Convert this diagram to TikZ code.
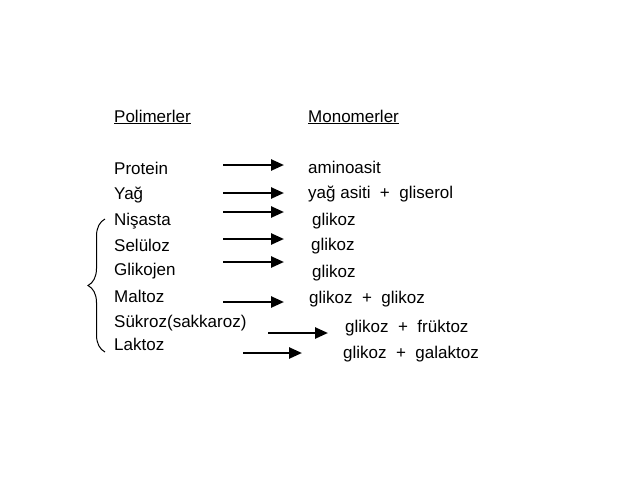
\documentclass[tikz,border=0pt]{standalone}
\usepackage{fontspec}
\setmainfont{Liberation Sans}
\usetikzlibrary{arrows.meta, decorations.pathreplacing}

\tikzset{
  lbl/.style={anchor=base west, inner sep=0pt, font=\fontsize{17}{20}\selectfont},
  conv/.style={line width=2.5pt, -{Triangle[length=13pt, width=11pt]}},
}

\begin{document}
\begin{tikzpicture}[x=1pt, y=-1pt]
  \useasboundingbox (0,0) rectangle (619,499);

  % Headings
  \node[lbl] (poly) at (114,122) {\underline{Polimerler}};
  \node[lbl] (mono) at (308,122) {\underline{Monomerler}};

  % Polymers
  \foreach \i/\y/\t in {1/174/Protein, 2/199/Yağ, 3/225/Nişasta, 4/251/Selüloz,
                        5/275/Glikojen, 6/302/Maltoz, 7/327/Sükroz(sakkaroz), 8/350/Laktoz} {
    \node[lbl] (p\i) at (114,\y) {\t};
  }

  % Monomers
  \node[lbl] (m1) at (308,173) {aminoasit};
  \node[lbl] (m2) at (308,198) {yağ asiti~~+~~gliserol};
  \node[lbl] (m3) at (312,225) {glikoz};
  \node[lbl] (m4) at (311,250) {glikoz};
  \node[lbl] (m5) at (312,277) {glikoz};
  \node[lbl] (m6) at (309,303) {glikoz~~+~~glikoz};
  \node[lbl] (m7) at (345,332) {glikoz~~+~~früktoz};
  \node[lbl] (m8) at (343,358) {glikoz~~+~~galaktoz};

  % Arrows
  \foreach \i/\xa/\xb/\y in {1/223/284/165, 2/223/284/193, 3/223/284/212, 4/223/284/239,
                             5/223/284/262, 6/223/284/302, 7/268/328/333, 8/243/302/353} {
    \coordinate (a\i) at (\xa,\y);
    \coordinate (b\i) at (\xb,\y);
    \draw[conv] (a\i) -- (b\i);
  }

  % Brace over the carbohydrates
  \coordinate (bl) at (105,352);
  \coordinate (bu) at (105,219);
  \draw[line width=1pt, decorate, decoration={brace, amplitude=17pt}] (bl) -- (bu);
\end{tikzpicture}
\end{document}
